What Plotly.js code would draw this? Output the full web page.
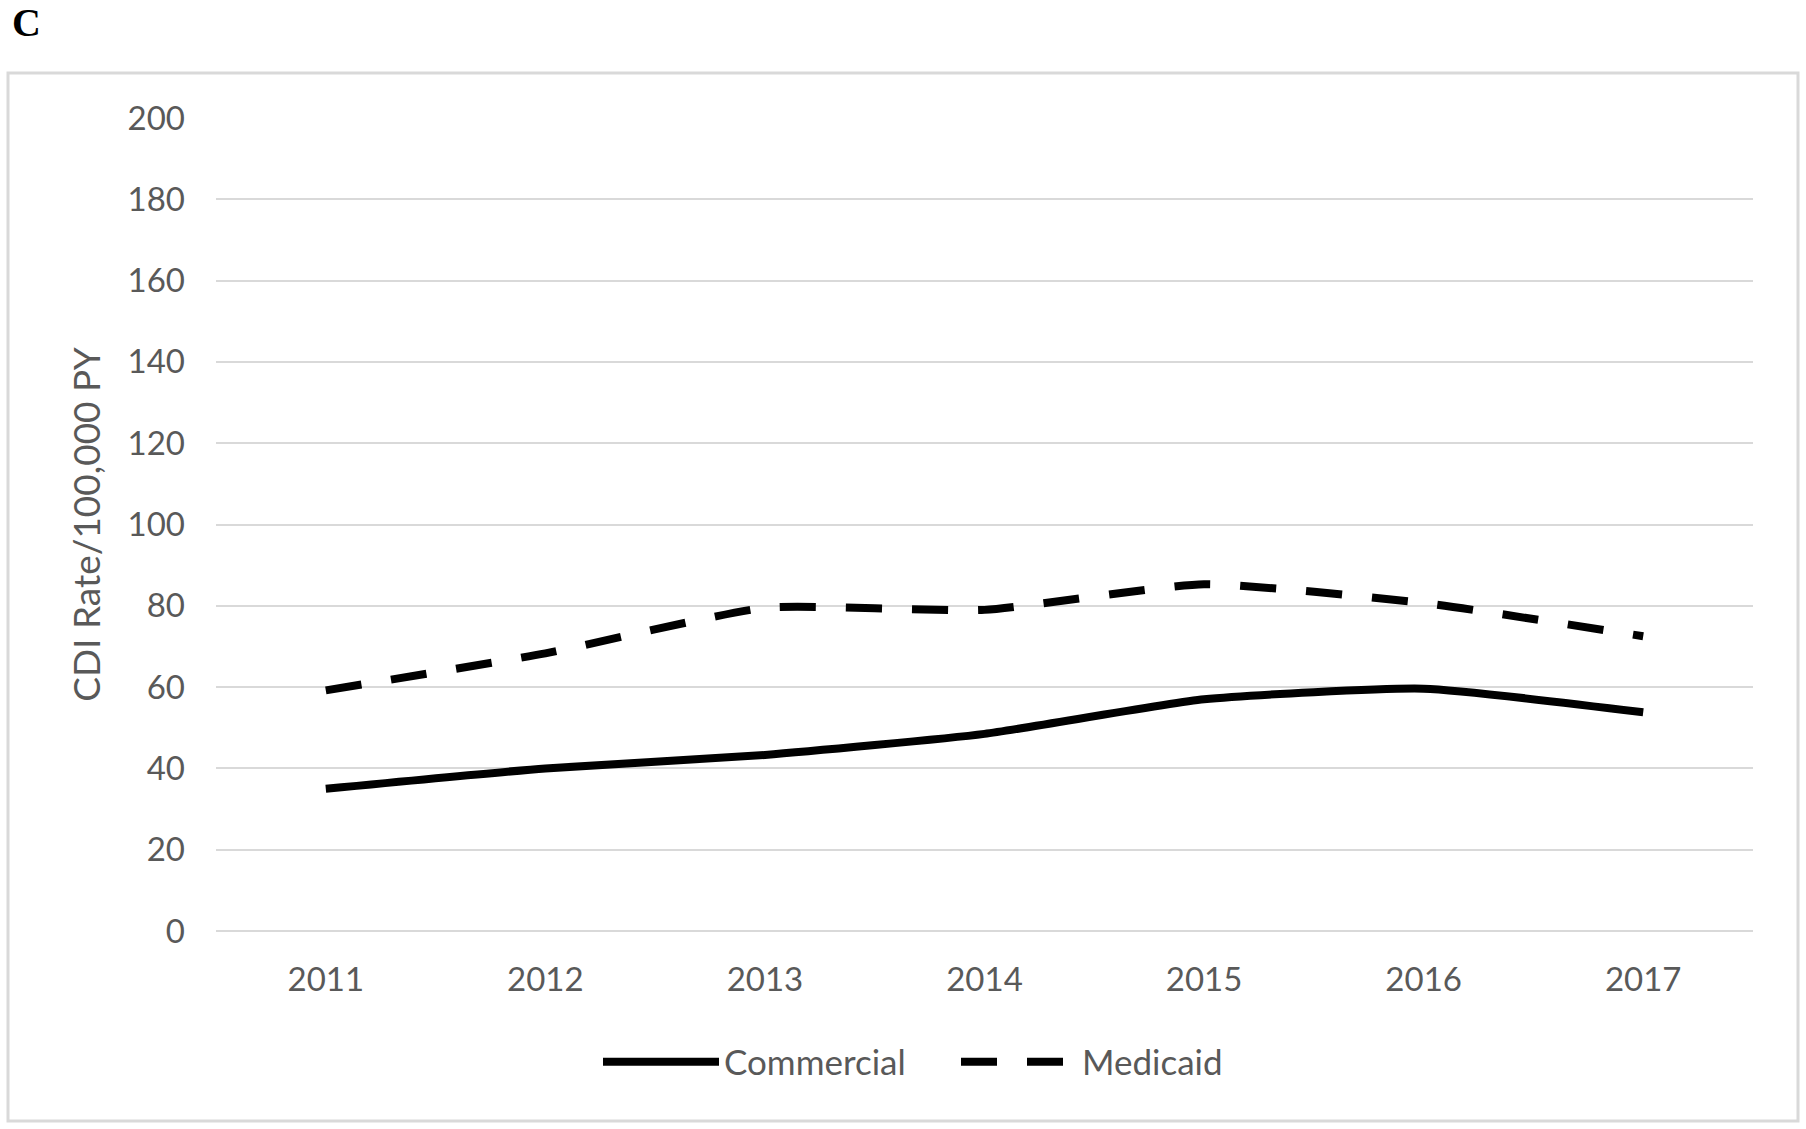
<!DOCTYPE html>
<html>
<head>
<meta charset="utf-8">
<script src="https://cdn.plot.ly/plotly-3.0.1.min.js"></script>
<style>html,body{margin:0;padding:0;background:#fff;}#chart{width:1806px;height:1129px;}</style>
</head>
<body>
<div id="chart"></div>
<script>
const years = ["2011", "2012", "2013", "2014", "2015", "2016", "2017"];
const commercial = [35, 40, 43.3, 48.5, 57, 59.6, 53.8];
const medicaid = [59.2, 68.3, 79.5, 79, 85.3, 80.7, 72.5];
const yTicks = [0, 20, 40, 60, 80, 100, 120, 140, 160, 180, 200];

const W = 1806, H = 1129;
const L = 216, R = 53, T = 118, B = 198;
const pw = W - L - R, ph = H - T - B;
const px = v => (v - L) / pw;
const py = v => (H - B - v) / ph;

const txt = '#595959';
const fontFam = 'Lato, "Open Sans", sans-serif';

const traces = [
  {x: years, y: commercial, name: 'Commercial', type: 'scatter', mode: 'lines',
   line: {color: '#000', width: 8, shape: 'spline', smoothing: 0.5}},
  {x: years, y: medicaid, name: 'Medicaid', type: 'scatter', mode: 'lines',
   line: {color: '#000', width: 8, dash: '36px,30px', shape: 'spline', smoothing: 0.5}}
];

const layout = {
  width: W, height: H,
  margin: {l: L, r: R, t: T, b: B, pad: 0},
  paper_bgcolor: '#fff', plot_bgcolor: '#fff',
  font: {family: fontFam, size: 33, color: txt},
  showlegend: true,
  legend: {orientation: 'h', x: px(598), xanchor: 'left', y: py(1062), yanchor: 'middle',
           font: {family: fontFam, size: 35, color: txt}, itemwidth: 116,
           entrywidth: 227, entrywidthmode: 'pixels', bgcolor: 'rgba(0,0,0,0)'},
  xaxis: {type: 'category', range: [-0.5, 6.5], showgrid: false, zeroline: false, showline: false,
          ticks: '', ticklabelstandoff: 26, tickfont: {family: fontFam, size: 33, color: txt}, fixedrange: true},
  yaxis: {range: [0, 200], tickvals: yTicks, showgrid: true, gridcolor: '#d9d9d9', gridwidth: 2,
          zeroline: true, zerolinecolor: '#d9d9d9', zerolinewidth: 2, showline: false, ticks: '',
          ticklabelstandoff: 30, tickfont: {family: fontFam, size: 33, color: txt},
          title: {text: 'CDI Rate/100,000 PY', font: {family: fontFam, size: 37, color: txt}, standoff: 15},
          fixedrange: true},
  shapes: [
    {type: 'rect', xref: 'paper', yref: 'paper', x0: px(8), x1: px(1798), y0: py(1121), y1: py(73),
     line: {color: '#d9d9d9', width: 3}, fillcolor: 'rgba(0,0,0,0)', layer: 'below'}
  ],
  annotations: [
    {text: '<b>C</b>', xref: 'paper', yref: 'paper', x: px(10), y: py(-2), xanchor: 'left', yanchor: 'top',
     showarrow: false, font: {family: '"Liberation Serif", "DejaVu Serif", serif', size: 40, color: '#000'}}
  ]
};

Plotly.newPlot('chart', traces, layout, {displayModeBar: false, staticPlot: true});
</script>
</body>
</html>
